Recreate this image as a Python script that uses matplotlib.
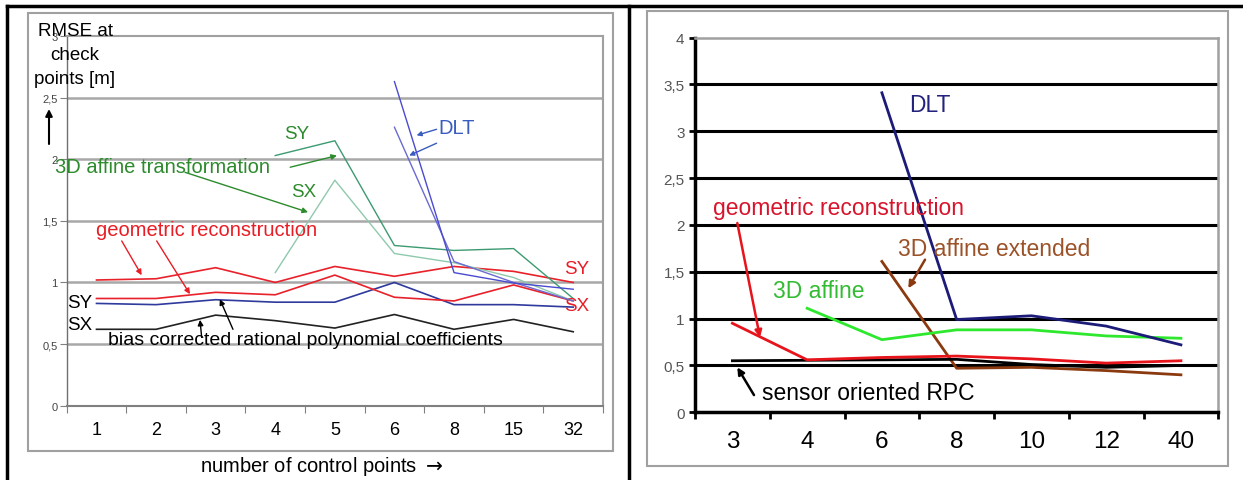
import numpy as np
import matplotlib.pyplot as plt
from matplotlib.lines import Line2D
from matplotlib.patches import Rectangle

plt.rcParams['font.family'] = ['Liberation Sans', 'DejaVu Sans']

nan = np.nan

# left chart: RMSE at check points [m] per number of control points
left_labels = ["1", "2", "3", "4", "5", "6", "8", "15", "32"]
geo_sy = [1.02, 1.03, 1.12, 1.00, 1.13, 1.05, 1.13, 1.09, 1.00]
geo_sx = [0.87, 0.87, 0.92, 0.90, 1.06, 0.88, 0.85, 0.98, 0.85]
bias_sy = [0.83, 0.82, 0.86, 0.84, 0.84, 1.00, 0.82, 0.82, 0.80]
bias_sx = [0.62, 0.62, 0.735, 0.69, 0.63, 0.74, 0.62, 0.70, 0.60]
aff_sy = [nan, nan, nan, 2.03, 2.15, 1.30, 1.26, 1.275, 0.87]
aff_sx = [nan, nan, nan, 1.08, 1.83, 1.235, 1.16, 1.04, 0.85]
dlt_sy = [nan, nan, nan, nan, nan, 2.63, 1.08, 0.995, 0.945]
dlt_sx = [nan, nan, nan, nan, nan, 2.26, 1.17, 1.0, 0.85]
left_yticks = [0, 0.5, 1, 1.5, 2, 2.5, 3]

# right chart
right_labels = ["3", "4", "6", "8", "10", "12", "40"]
r_geo = [0.95, 0.56, 0.585, 0.60, 0.57, 0.525, 0.55]
r_rpc = [0.55, 0.555, 0.56, 0.565, 0.51, 0.48, 0.50]
r_affine = [nan, 1.11, 0.775, 0.88, 0.88, 0.815, 0.79]
r_dlt = [nan, nan, 3.41, 0.99, 1.03, 0.92, 0.72]
r_affine_ext = [nan, nan, 1.61, 0.47, 0.48, 0.445, 0.40]
right_yticks = [0, 0.5, 1, 1.5, 2, 2.5, 3, 3.5, 4]


def comma(v):
    return f"{v:g}".replace(".", ",")


W, H = 1243, 481
fig = plt.figure(figsize=(W / 100, H / 100), dpi=100)


def fx(px):
    return px / W


def fy(py):
    return 1 - py / H


# table borders and panel frames
fig.add_artist(Line2D([fx(6.7), 1], [fy(6.7), fy(6.7)], color='black', lw=2.5))
fig.add_artist(Line2D([fx(6.7), fx(6.7)], [0, fy(6.7)], color='black', lw=2.5))
fig.add_artist(Line2D([fx(629), fx(629)], [0, fy(6.7)], color='black', lw=2.5))
fig.add_artist(Rectangle((fx(28), fy(451.7)), fx(612.7) - fx(28), fy(14) - fy(451.7),
                         transform=fig.transFigure, fill=False, ec='#a0a0a0', lw=1.5))
fig.add_artist(Rectangle((fx(647.3), fy(466.7)), fx(1227.7) - fx(647.3), fy(12.3) - fy(466.7),
                         transform=fig.transFigure, fill=False, ec='#a0a0a0', lw=1.5))

# ---------------- left chart ----------------
ax1 = fig.add_axes([fx(66.7), fy(406.7), fx(603) - fx(66.7), fy(37) - fy(406.7)])
x1 = np.arange(len(left_labels))
ax1.set_xlim(-0.5, len(left_labels) - 0.5)
ax1.set_ylim(0, 3)
for v in left_yticks[1:-1]:
    ax1.axhline(v, color='#a8a8a8', lw=1.8, zorder=1)

ax1.plot(x1, bias_sx, color='#222222', lw=1.2, zorder=3)
ax1.plot(x1, bias_sy, color='#2e3a9c', lw=1.2, zorder=3)
ax1.plot(x1, geo_sx, color='#e8212b', lw=1.2, zorder=3)
ax1.plot(x1, geo_sy, color='#e8212b', lw=1.2, zorder=3)
ax1.plot(x1, aff_sx, color='#8fc9ad', lw=1.0, zorder=3)
ax1.plot(x1, aff_sy, color='#3c9a70', lw=1.0, zorder=3)
ax1.plot(x1, dlt_sx, color='#6a6ad0', lw=1.0, zorder=4)
ax1.plot(x1, dlt_sy, color='#4a4ad0', lw=1.0, zorder=4)

ax1.set_yticks(left_yticks)
ax1.set_yticklabels([comma(v) for v in left_yticks])
ax1.set_xticks(np.arange(-0.5, len(left_labels), 1))
ax1.set_xticklabels([])
ax1.set_xticks(x1, minor=True)
ax1.set_xticklabels(left_labels, minor=True)
ax1.tick_params(axis='y', length=5, color='#808080', labelsize=8, labelcolor='#444444', pad=1.5)
ax1.tick_params(axis='x', which='major', length=5, color='#808080')
ax1.tick_params(axis='x', which='minor', length=0, labelsize=13, pad=11)
for s in ax1.spines.values():
    s.set_color('#a0a0a0')
    s.set_linewidth(1.5)
ax1.spines['left'].set_color('#707070')
ax1.spines['left'].set_linewidth(1.0)
ax1.spines['bottom'].set_color('#808080')

green_t = '#2d8b2d'
red_t = '#e81d25'
ax1.text(3.36, 2.21, "SY", color=green_t, fontsize=13.5, ha='center', va='center')
ax1.text(1.10, 1.94, "3D affine transformation", color=green_t, fontsize=14.5, ha='center', va='center')
ax1.text(3.48, 1.74, "SX", color=green_t, fontsize=13.5, ha='center', va='center')
arr_g = dict(arrowstyle='-|>', color=green_t, lw=1.0, mutation_scale=8, shrinkA=0, shrinkB=0)
ax1.annotate('', xy=(4.035, 2.03), xytext=(3.25, 1.935), arrowprops=arr_g)
ax1.annotate('', xy=(3.55, 1.57), xytext=(1.485, 1.894), arrowprops=arr_g)

ax1.text(1.84, 1.43, "geometric reconstruction", color=red_t, fontsize=14.5, ha='center', va='center')
arr_r = dict(arrowstyle='-|>', color=red_t, lw=1.0, mutation_scale=8, shrinkA=0, shrinkB=0)
ax1.annotate('', xy=(0.758, 1.059), xytext=(0.423, 1.337), arrowprops=arr_r)
ax1.annotate('', xy=(1.569, 0.905), xytext=(1.01, 1.337), arrowprops=arr_r)
ax1.text(8.05, 1.116, "SY", color=red_t, fontsize=13.5, ha='center', va='center')
ax1.text(8.06, 0.816, "SX", color=red_t, fontsize=13.5, ha='center', va='center')

ax1.text(-0.29, 0.84, "SY", color='black', fontsize=13.5, ha='center', va='center')
ax1.text(-0.29, 0.66, "SX", color='black', fontsize=13.5, ha='center', va='center')
ax1.text(0.19, 0.54, "bias corrected rational polynomial coefficients", color='black',
         fontsize=14, ha='left', va='center')
arr_k = dict(arrowstyle='-|>', color='black', lw=1.0, mutation_scale=8, shrinkA=0, shrinkB=0)
ax1.annotate('', xy=(1.737, 0.697), xytext=(1.765, 0.554), arrowprops=arr_k)
ax1.annotate('', xy=(2.07, 0.864), xytext=(2.29, 0.62), arrowprops=arr_k)

dlt_t = '#3a5bc0'
ax1.text(6.05, 2.26, "DLT", color=dlt_t, fontsize=14.5, ha='center', va='center')
arr_b = dict(arrowstyle='-|>', color=dlt_t, lw=1.0, mutation_scale=7, shrinkA=0, shrinkB=0)
ax1.annotate('', xy=(5.372, 2.194), xytext=(5.707, 2.243), arrowprops=arr_b)
ax1.annotate('', xy=(5.248, 2.03), xytext=(5.707, 2.13), arrowprops=arr_b)

for i, line in enumerate(["RMSE at", "check", "points [m]"]):
    fig.text(fx(75), fy(31.7 + 24 * i), line, fontsize=13.5, ha='center', va='center')
fig.add_artist(plt.Annotation('', xy=(fx(49), fy(110)), xytext=(fx(49), fy(145)),
                              xycoords='figure fraction',
                              arrowprops=dict(arrowstyle='-|>', color='black', lw=1.5,
                                              mutation_scale=10, shrinkA=0, shrinkB=0)))
fig.text(fx(321.5), fy(467), r"number of control points $\rightarrow$", fontsize=14.5,
         ha='center', va='center')

# ---------------- right chart ----------------
ax2 = fig.add_axes([fx(695), fy(413.3), fx(1218.3) - fx(695), fy(38.5) - fy(413.3)])
x2 = np.arange(len(right_labels))
ax2.set_xlim(-0.5, len(right_labels) - 0.5)
ax2.set_ylim(0, 4)
for v in right_yticks[1:-1]:
    ax2.axhline(v, color='black', lw=2.2, zorder=1)

ax2.plot(x2, r_affine_ext, color='#8b3a10', lw=2.0, zorder=3)
ax2.plot(x2, r_rpc, color='black', lw=2.0, zorder=3)
ax2.plot(x2, r_geo, color='#e8141c', lw=2.0, zorder=3)
ax2.plot(x2, r_affine, color='#2ee82e', lw=2.0, zorder=3)
ax2.plot(x2, r_dlt, color='#1c1c78', lw=2.0, zorder=3)

ax2.set_yticks(right_yticks)
ax2.set_yticklabels([comma(v) for v in right_yticks])
ax2.set_xticks(np.arange(-0.5, len(right_labels), 1))
ax2.set_xticklabels([])
ax2.set_xticks(x2, minor=True)
ax2.set_xticklabels(right_labels, minor=True)
ax2.tick_params(axis='y', length=4.5, width=2, color='black', labelsize=11,
                labelcolor='#555555', pad=3)
ax2.tick_params(axis='x', which='major', length=5, width=2, color='black')
ax2.tick_params(axis='x', which='minor', length=0, labelsize=17.5, pad=13)
for side in ['top', 'right']:
    ax2.spines[side].set_color('#a0a0a0')
    ax2.spines[side].set_linewidth(1.8)
for side in ['left', 'bottom']:
    ax2.spines[side].set_color('black')
    ax2.spines[side].set_linewidth(2.5)

ax2.text(2.36, 3.28, "DLT", color='#23237d', fontsize=16.5, ha='left', va='center')
ax2.text(-0.263, 2.19, "geometric reconstruction", color='#d8142c', fontsize=16.5,
         ha='left', va='center')
ax2.annotate('', xy=(0.369, 0.80), xytext=(0.066, 2.02),
             arrowprops=dict(arrowstyle='-|>', color='#e8141c', lw=1.8, mutation_scale=10,
                             shrinkA=0, shrinkB=0))
ax2.text(2.215, 1.743, "3D affine extended", color='#9c5228', fontsize=16.5, ha='left', va='center')
ax2.annotate('', xy=(2.353, 1.323), xytext=(2.577, 1.629),
             arrowprops=dict(arrowstyle='-|>', color='#8b3a10', lw=1.8, mutation_scale=10,
                             shrinkA=0, shrinkB=0))
ax2.text(0.543, 1.298, "3D affine", color='#33bb33', fontsize=16.5, ha='left', va='center')
ax2.text(0.392, 0.213, "sensor oriented RPC", color='black', fontsize=16.5, ha='left', va='center')
ax2.annotate('', xy=(0.066, 0.48), xytext=(0.289, 0.184),
             arrowprops=dict(arrowstyle='-|>', color='black', lw=1.8, mutation_scale=10,
                             shrinkA=0, shrinkB=0))

fig.savefig("out.png", dpi=100)
